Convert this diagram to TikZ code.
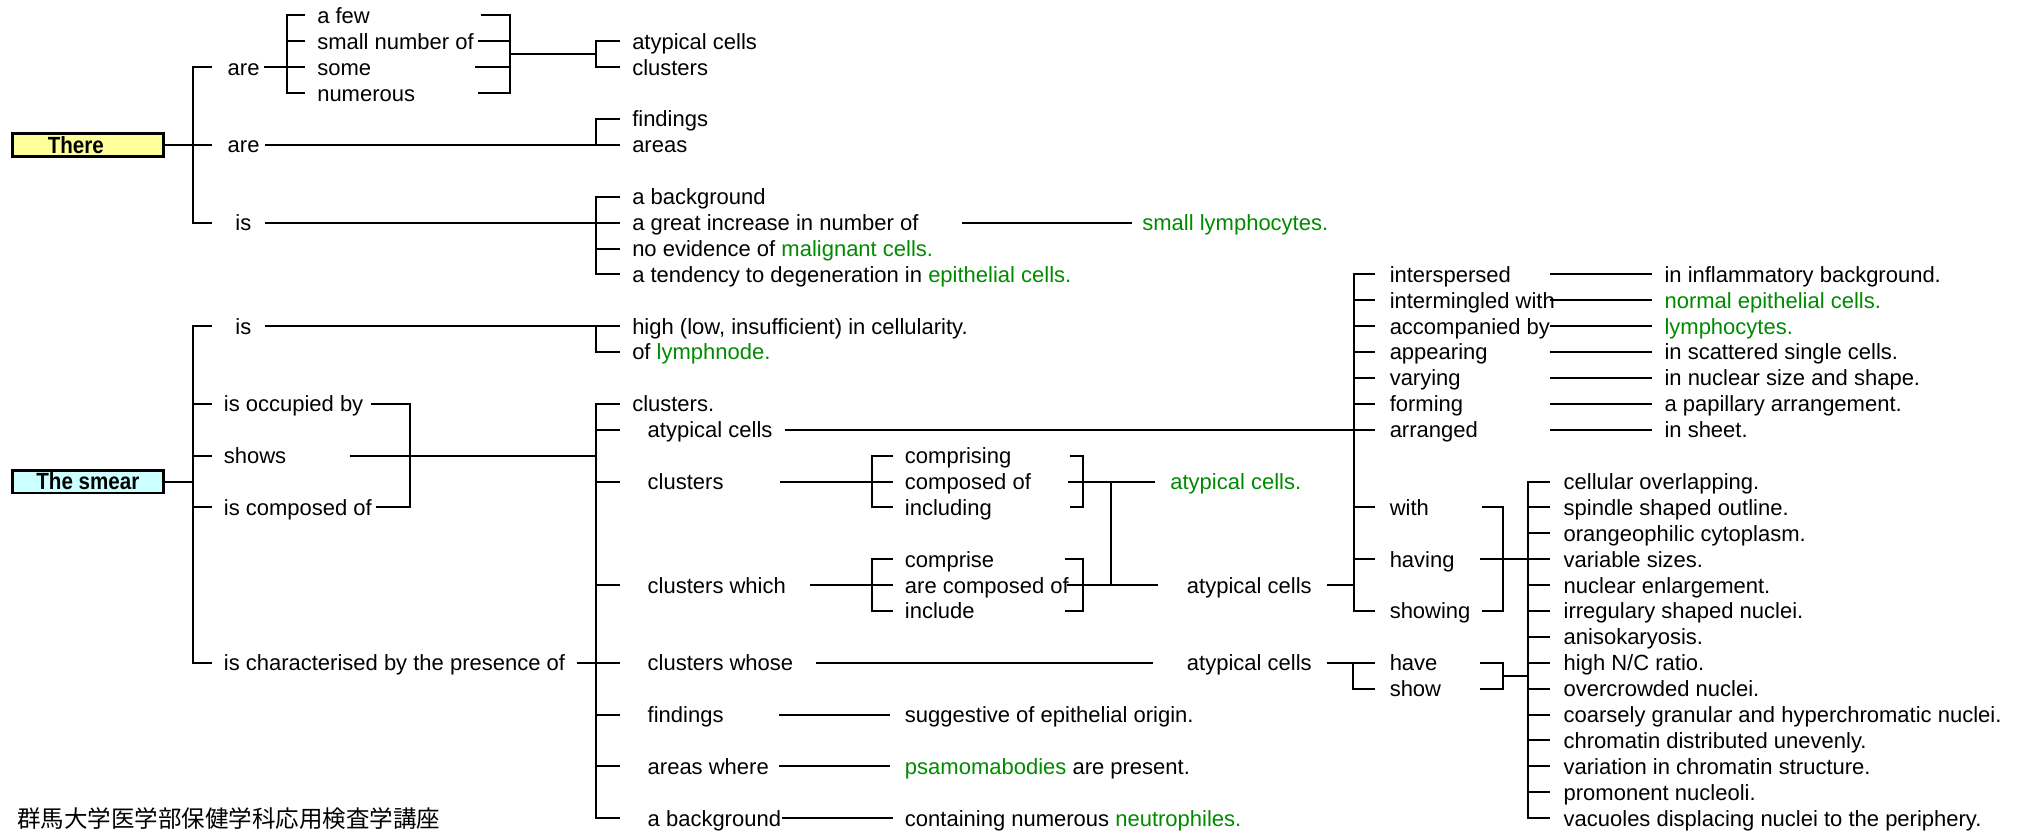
\documentclass[tikz,border=0pt]{standalone}
\usepackage{fontspec}
\setmainfont{Liberation Sans}
\newfontfamily\cjkfont{Noto Sans CJK JP}
\definecolor{grn}{RGB}{0,138,0}
\definecolor{yel}{RGB}{255,255,153}
\definecolor{cyn}{RGB}{204,255,255}
\newcommand{\gr}[1]{\textcolor{grn}{#1}}
\begin{document}
\begin{tikzpicture}[x=0.64413pt, y=-12.947pt, line width=1pt,
  tx/.style={anchor=west, inner sep=0pt, font=\fontsize{11}{13}\selectfont, text height=7.9pt, text depth=0pt},
  boxnode/.style={draw, line width=1.35pt, inner sep=0pt, minimum width=75.5pt, minimum height=11.4pt,
     font=\fontsize{11.7}{12}\selectfont\bfseries}]
\useasboundingbox (0,-0.597) rectangle (1568,31.542);

% ================= THERE =================
\node[boxnode, fill=yel] (there) at (68.2,5) {\scalebox{0.88}[1]{There}\hspace*{12pt}};
\draw (there.east) -- (164.5,5);
\draw (164.5,2) -- (149.7,2) -- (149.7,8) -- (164.5,8);

\node[tx] (are1) at (176,2) {are};
\draw (205,2) -- (237,2);
\draw (237,0) -- (223,0) -- (223,3) -- (237,3);
\draw (223,1) -- (237,1);
\node[tx] (afew) at (245.5,0) {a few};
\node[tx] (small) at (245.5,1) {small number of};
\node[tx] (some) at (245.5,2) {some};
\node[tx] (numerous) at (245.5,3) {numerous};
\draw (373,0) -- (396,0) -- (396,3) -- (371,3);
\draw (371,1) -- (396,1);
\draw (369,2) -- (396,2);
\draw (396,1.5) -- (462.6,1.5);
\draw (481,1) -- (462.6,1) -- (462.6,2) -- (481,2);
\node[tx] (atyp1) at (490,1) {atypical cells};
\node[tx] (clus1) at (490,2) {clusters};

\node[tx] (are2) at (176,5) {are};
\draw (206,5) -- (481,5);
\draw (481,4) -- (462.6,4) -- (462.6,5);
\node[tx] (find1) at (490,4) {findings};
\node[tx] (areas1) at (490,5) {areas};

\node[tx] (is1) at (182,8) {is};
\draw (206,8) -- (481,8);
\draw (481,7) -- (462.6,7) -- (462.6,10) -- (481,10);
\draw (462.6,9) -- (481,9);
\node[tx] (bg1) at (490,7) {a background};
\node[tx] (great) at (490,8) {a great increase in number of};
\node[tx] (noev) at (490,9) {no evidence of \gr{malignant cells.}};
\node[tx] (tend) at (490,10) {a tendency to degeneration in \gr{epithelial cells.}};
\draw (746.9,8) -- (878.4,8);
\node[tx] (slym) at (886,8) {\gr{small lymphocytes.}};

% ================= THE SMEAR =================
\node[boxnode, fill=cyn] (smear) at (68.2,18) {\scalebox{0.88}[1]{The smear}};
\draw (smear.east) -- (149.7,18);
\draw (164.5,12) -- (149.7,12) -- (149.7,25) -- (164.5,25);
\foreach \r in {15,17,19} \draw (149.7,\r) -- (164.5,\r);

\node[tx] (is2) at (182,12) {is};
\draw (206,12) -- (481,12);
\draw (462.6,12) -- (462.6,13) -- (481,13);
\node[tx] (high) at (490,12) {high (low, insufficient) in cellularity.};
\node[tx] (oflym) at (490,13) {of \gr{lymphnode.}};

\node[tx] (occ) at (173,15) {is occupied by};
\node[tx] (shows) at (173,17) {shows};
\node[tx] (comp) at (173,19) {is composed of};
\node[tx] (charac) at (173,25) {is characterised by the presence of};
\draw (288,15) -- (318,15) -- (318,19) -- (291.6,19);
\draw (272,17) -- (463,17);
\draw (447.5,25) -- (481,25);

\draw (481,15) -- (463,15) -- (463,31) -- (481,31);
\foreach \r in {16,18,22,27,29} \draw (463,\r) -- (481,\r);
\node[tx] (clus2) at (490,15) {clusters.};
\node[tx] (atyp2) at (502,16) {atypical cells};
\node[tx] (clus3) at (502,18) {clusters};
\node[tx] (clusw) at (502,22) {clusters which};
\node[tx] (cluswh) at (502,25) {clusters whose};
\node[tx] (find2) at (502,27) {findings};
\node[tx] (areasw) at (502,29) {areas where};
\node[tx] (bg2) at (502,31) {a background};

% atypical cells row 16 -> big vertical
\draw (609,16) -- (1067,16);
\draw (1067,10) -- (1050.8,10) -- (1050.8,23) -- (1067,23);
\foreach \r in {11,12,13,14,15,19,21} \draw (1050.8,\r) -- (1067,\r);
\node[tx] (intersp) at (1078,10) {interspersed};
\node[tx] (interm) at (1078,11) {intermingled with};
\node[tx] (accomp) at (1078,12) {accompanied by};
\node[tx] (appear) at (1078,13) {appearing};
\node[tx] (vary) at (1078,14) {varying};
\node[tx] (form) at (1078,15) {forming};
\node[tx] (arr) at (1078,16) {arranged};
\node[tx] (with) at (1078,19) {with};
\node[tx] (having) at (1078,21) {having};
\node[tx] (showing) at (1078,23) {showing};
\foreach \r in {10,11,12,13,14,15,16} \draw (1203.3,\r) -- (1282.3,\r);
\node[tx] (r10) at (1291.3,10) {in inflammatory background.};
\node[tx] (r11) at (1291.3,11) {\gr{normal epithelial cells.}};
\node[tx] (r12) at (1291.3,12) {\gr{lymphocytes.}};
\node[tx] (r13) at (1291.3,13) {in scattered single cells.};
\node[tx] (r14) at (1291.3,14) {in nuclear size and shape.};
\node[tx] (r15) at (1291.3,15) {a papillary arrangement.};
\node[tx] (r16) at (1291.3,16) {in sheet.};

% clusters row 18
\draw (605.5,18) -- (693,18);
\draw (693,17) -- (676.9,17) -- (676.9,19) -- (693,19);
\node[tx] (comprising) at (701.7,17) {comprising};
\node[tx] (composed) at (701.7,18) {composed of};
\node[tx] (including) at (701.7,19) {including};
\draw (830.6,17) -- (840.5,17) -- (840.5,19) -- (830.6,19);
\draw (829,18) -- (896.6,18);
\node[tx] (atypg) at (907.7,18) {\gr{atypical cells.}};
\draw (862.2,18) -- (862.2,22);

% clusters which row 22
\draw (628.5,22) -- (693,22);
\draw (693,21) -- (676.9,21) -- (676.9,23) -- (693,23);
\node[tx] (comprise) at (701.7,21) {comprise};
\node[tx] (arecomp) at (701.7,22) {are composed of};
\node[tx] (include) at (701.7,23) {include};
\draw (826.8,21) -- (840.5,21) -- (840.5,23) -- (826.8,23);
\draw (828,22) -- (898.7,22);
\node[tx] (atyp3) at (920.6,22) {atypical cells};
\draw (1029.7,22) -- (1050.8,22);

% clusters whose row 25
\draw (633.6,25) -- (895,25);
\node[tx] (atyp4) at (920.6,25) {atypical cells};
\draw (1029.7,25) -- (1067,25);
\draw (1050.3,25) -- (1050.3,26) -- (1067,26);
\node[tx] (have) at (1078,25) {have};
\node[tx] (show) at (1078,26) {show};

% with/having/showing bracket
\draw (1150,19) -- (1166.4,19) -- (1166.4,23) -- (1150,23);
\draw (1148.7,21) -- (1203,21);
% have/show bracket
\draw (1149,25) -- (1166.4,25) -- (1166.4,26) -- (1149,26);
\draw (1166.4,25.5) -- (1185.7,25.5);
% right list
\draw (1203,18) -- (1185.7,18) -- (1185.7,31) -- (1203,31);
\foreach \r in {19,20,22,23,24,25,26,27,28,29,30} \draw (1185.7,\r) -- (1203,\r);
\node[tx] (f18) at (1213,18) {cellular overlapping.};
\node[tx] (f19) at (1213,19) {spindle shaped outline.};
\node[tx] (f20) at (1213,20) {orangeophilic cytoplasm.};
\node[tx] (f21) at (1213,21) {variable sizes.};
\node[tx] (f22) at (1213,22) {nuclear enlargement.};
\node[tx] (f23) at (1213,23) {irregulary shaped nuclei.};
\node[tx] (f24) at (1213,24) {anisokaryosis.};
\node[tx] (f25) at (1213,25) {high N/C ratio.};
\node[tx] (f26) at (1213,26) {overcrowded nuclei.};
\node[tx] (f27) at (1213,27) {coarsely granular and hyperchromatic nuclei.};
\node[tx] (f28) at (1213,28) {chromatin distributed unevenly.};
\node[tx] (f29) at (1213,29) {variation in chromatin structure.};
\node[tx] (f30) at (1213,30) {promonent nucleoli.};
\node[tx] (f31) at (1213,31) {vacuoles displacing nuclei to the periphery.};

% findings / areas where / a background
\draw (604.7,27) -- (691,27);
\node[tx] (sugg) at (701.7,27) {suggestive of epithelial origin.};
\draw (604.7,29) -- (691,29);
\node[tx] (psam) at (701.7,29) {\gr{psamomabodies} are present.};
\draw (606.7,31) -- (693,31);
\node[tx] (contain) at (701.7,31) {containing numerous \gr{neutrophiles.}};

% footer
\node[anchor=west, inner sep=0pt, font=\cjkfont\fontsize{11.75}{13}\selectfont] (footer) at (12.7,31) {群馬大学医学部保健学科応用検査学講座};
\end{tikzpicture}
\end{document}
